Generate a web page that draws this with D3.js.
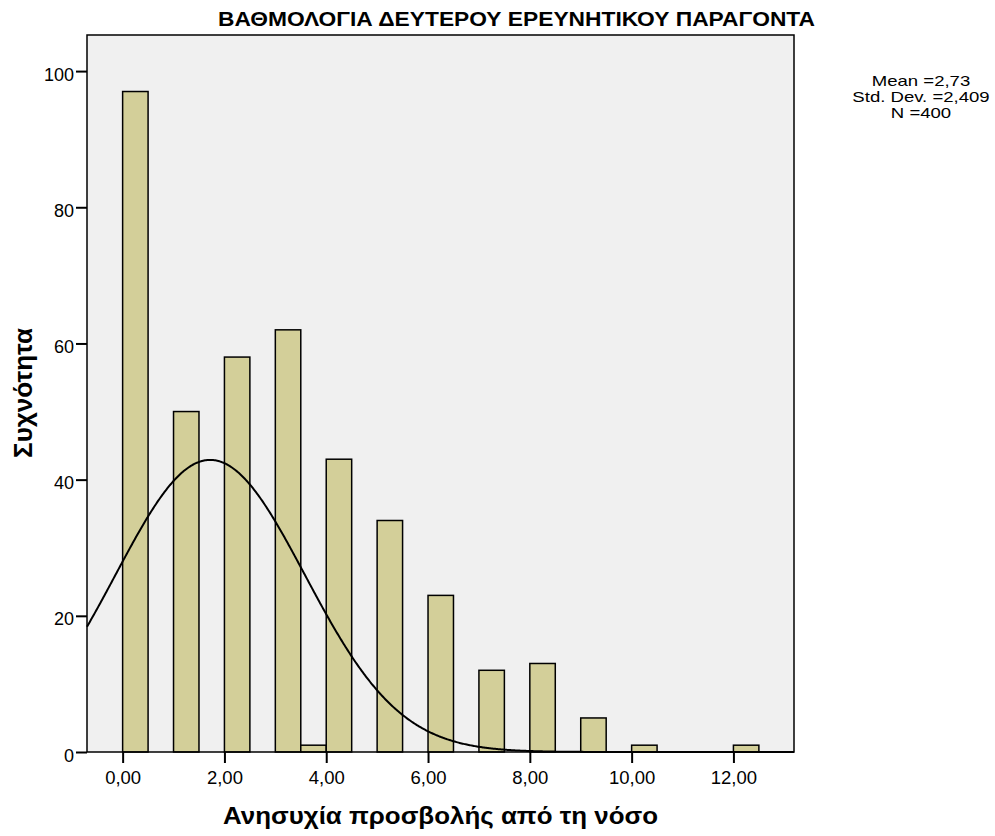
<!DOCTYPE html>
<html>
<head>
<meta charset="utf-8">
<script src="https://cdn.jsdelivr.net/npm/d3@7"></script>
<style>
  body { margin: 0; background: #fff; }
  text { font-family: "Liberation Sans", Arial, sans-serif; }
</style>
</head>
<body>
<div id="chart"></div>
<script>
// Data
const binStarts = [0, 1, 2, 3, 3.5, 4, 5, 6, 7, 8, 9, 10, 12]
const counts = [97, 50, 58, 62, 1, 43, 34, 23, 12, 13, 5, 1, 1]
const binWidth = 0.5
const xTicks = [0, 2, 4, 6, 8, 10, 12]
const yTicks = [0, 20, 40, 60, 80, 100]
const statLines = ["Mean =2,73", "Std. Dev. =2,409", "N =400"]
const nTotal = 400
// normal curve as it sits in the picture
const curveMean = 1.72
const curveSd = 1.86

const title = "ΒΑΘΜΟΛΟΓΙΑ ΔΕΥΤΕΡΟΥ ΕΡΕΥΝΗΤΙΚΟΥ ΠΑΡΑΓΟΝΤΑ"
const xTitle = "Ανησυχία προσβολής από τη νόσο"
const yTitle = "Συχνότητα"

// Dimensions
const width = 995, height = 836
const plot = { left: 87, right: 794, top: 35, bottom: 752 }

const svg = d3.select("#chart")
  .append("svg")
  .attr("width", width)
  .attr("height", height)

const x = d3.scaleLinear()
  .domain([-0.70, 13.19])
  .range([plot.left, plot.right])

const y = d3.scaleLinear()
  .domain([0, 105.3])
  .range([plot.bottom, plot.top])

svg.append("rect")
  .attr("x", plot.left)
  .attr("y", plot.top)
  .attr("width", plot.right - plot.left)
  .attr("height", plot.bottom - plot.top)
  .attr("fill", "#f0f0f0")

// bars
svg.append("g")
  .attr("fill", "#d3cf99")
  .attr("stroke", "#000")
  .attr("stroke-width", 1.5)
  .selectAll("rect")
  .data(binStarts)
  .join("rect")
  .attr("x", d => x(d))
  .attr("width", d => x(d + binWidth) - x(d))
  .attr("y", (d, i) => y(counts[i]))
  .attr("height", (d, i) => y(0) - y(counts[i]))

// normal curve
const peak = nTotal * binWidth / (curveSd * Math.sqrt(2 * Math.PI))
const xs = d3.range(x.domain()[0], x.domain()[1], 0.02).concat([x.domain()[1]])
const line = d3.line()
  .x(d => x(d))
  .y(d => y(peak * Math.exp(-((d - curveMean) ** 2) / (2 * curveSd * curveSd))))

svg.append("path")
  .datum(xs)
  .attr("d", line)
  .attr("fill", "none")
  .attr("stroke", "#000")
  .attr("stroke-width", 2)

// frame
svg.append("rect")
  .attr("x", plot.left)
  .attr("y", plot.top)
  .attr("width", plot.right - plot.left)
  .attr("height", plot.bottom - plot.top)
  .attr("fill", "none")
  .attr("stroke", "#000")
  .attr("stroke-width", 1.5)

// axes
const yAxis = svg.append("g")
  .attr("transform", `translate(${plot.left},0)`)
  .call(d3.axisLeft(y).tickValues(yTicks).tickSize(11).tickPadding(2).tickFormat(d3.format("d")))
yAxis.select(".domain").remove()
yAxis.selectAll(".tick text").attr("dy", "0.5em")

const xAxis = svg.append("g")
  .attr("transform", `translate(0,${plot.bottom})`)
  .call(d3.axisBottom(x).tickValues(xTicks).tickSize(11).tickPadding(8)
    .tickFormat(d => d3.format(".2f")(d).replace(".", ",")))
xAxis.select(".domain").remove()

svg.selectAll(".tick line").attr("stroke", "#000").attr("stroke-width", 2)
svg.selectAll(".tick text")
  .attr("fill", "#000")
  .style("font-family", "'Liberation Sans', Arial, sans-serif")
yAxis.selectAll(".tick text").style("font-size", "18px")
xAxis.selectAll(".tick text").style("font-size", "18.5px")

// titles
svg.append("text")
  .attr("x", 516.5)
  .attr("y", 26)
  .attr("text-anchor", "middle")
  .attr("textLength", 597)
  .attr("lengthAdjust", "spacingAndGlyphs")
  .style("font-weight", "bold")
  .style("font-size", "20px")
  .text(title)

svg.append("text")
  .attr("x", (plot.left + plot.right) / 2)
  .attr("y", 824)
  .attr("text-anchor", "middle")
  .attr("textLength", 435)
  .attr("lengthAdjust", "spacingAndGlyphs")
  .style("font-weight", "bold")
  .style("font-size", "24px")
  .text(xTitle)

svg.append("text")
  .attr("transform", `translate(32,393) rotate(-90)`)
  .attr("text-anchor", "middle")
  .attr("textLength", 130)
  .attr("lengthAdjust", "spacingAndGlyphs")
  .style("font-weight", "bold")
  .style("font-size", "26px")
  .text(yTitle)

// stats box
svg.append("g")
  .attr("transform", "translate(921,0) scale(1.28,1)")
  .selectAll("text")
  .data(statLines)
  .join("text")
  .attr("x", 0)
  .attr("y", (d, i) => 86 + i * 16)
  .attr("text-anchor", "middle")
  .style("font-size", "14.5px")
  .text(d => d)
</script>
</body>
</html>
